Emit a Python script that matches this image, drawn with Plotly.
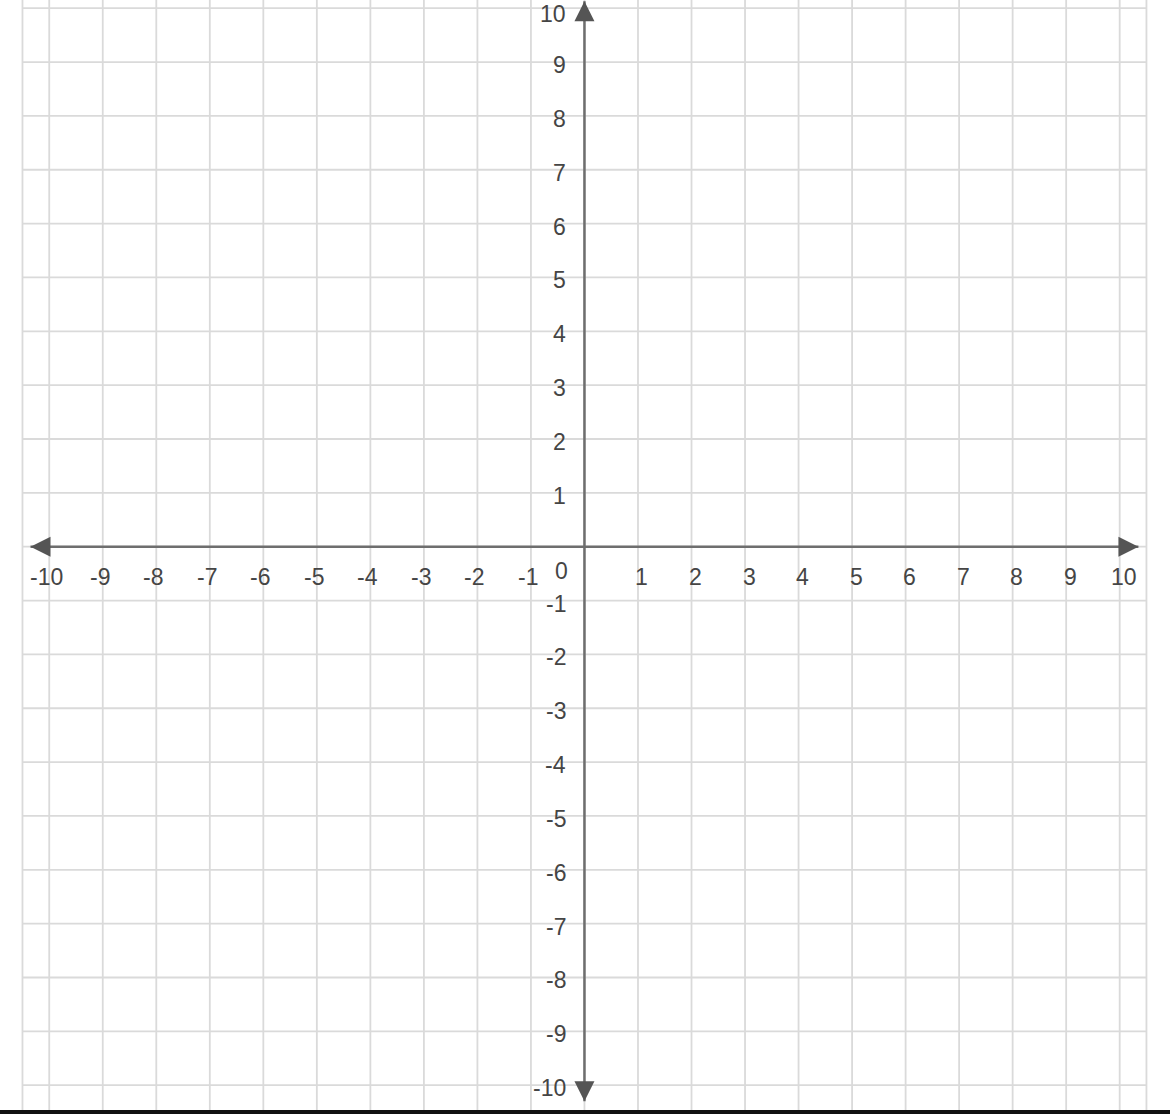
import plotly.graph_objects as go

# ---- data -------------------------------------------------------------
x_tick_values = [-10, -9, -8, -7, -6, -5, -4, -3, -2, -1, 1, 2, 3, 4, 5, 6, 7, 8, 9, 10]
x_tick_labels = ["-10", "-9", "-8", "-7", "-6", "-5", "-4", "-3", "-2", "-1",
                 "1", "2", "3", "4", "5", "6", "7", "8", "9", "10"]
y_tick_values = [10, 9, 8, 7, 6, 5, 4, 3, 2, 1, -1, -2, -3, -4, -5, -6, -7, -8, -9, -10]
y_tick_labels = ["10", "9", "8", "7", "6", "5", "4", "3", "2", "1",
                 "-1", "-2", "-3", "-4", "-5", "-6", "-7", "-8", "-9", "-10"]
origin_label = "0"
grid_x = [-10.5, -10, -9, -8, -7, -6, -5, -4, -3, -2, -1, 0,
          1, 2, 3, 4, 5, 6, 7, 8, 9, 10, 10.5]
grid_y = [-10, -9, -8, -7, -6, -5, -4, -3, -2, -1, 0,
          1, 2, 3, 4, 5, 6, 7, 8, 9, 10]
grid_x_extent = [-10.5, 10.5]
axis_x_extent = [-10.35, 10.35]
axis_y_extent = [-10.3, 10.13]
x_range = [-10.92, 10.94]
y_range = [-10.535, 10.152]

# ---- style ------------------------------------------------------------
GRID = "#dadada"
AXIS = "#6e6e6e"
ARROW = "#555555"
TEXT = "#454545"
FONT = "Liberation Sans, Arial, sans-serif"
FSIZE = 23

fig = go.Figure()

# vertical grid lines
vx, vy = [], []
for g in grid_x:
    vx += [g, g, None]
    vy += [y_range[0], y_range[1], None]
fig.add_trace(go.Scatter(x=vx, y=vy, mode="lines",
                         line=dict(color=GRID, width=1.8),
                         hoverinfo="skip", showlegend=False))

# horizontal grid lines
hx, hy = [], []
for g in grid_y:
    hx += [grid_x_extent[0], grid_x_extent[1], None]
    hy += [g, g, None]
fig.add_trace(go.Scatter(x=hx, y=hy, mode="lines",
                         line=dict(color=GRID, width=1.8),
                         hoverinfo="skip", showlegend=False))

# axes
fig.add_trace(go.Scatter(x=axis_x_extent, y=[0, 0], mode="lines",
                         line=dict(color=AXIS, width=2.5),
                         hoverinfo="skip", showlegend=False))
fig.add_trace(go.Scatter(x=[0, 0], y=axis_y_extent, mode="lines",
                         line=dict(color=AXIS, width=2.5),
                         hoverinfo="skip", showlegend=False))

# arrowheads
fig.add_trace(go.Scatter(
    x=[axis_x_extent[0], axis_x_extent[1], 0, 0],
    y=[0, 0, axis_y_extent[1], axis_y_extent[0]],
    mode="markers",
    marker=dict(symbol=["arrow-left", "arrow-right", "arrow-up", "arrow-down"],
                size=20, color=ARROW, line=dict(width=0)),
    hoverinfo="skip", showlegend=False))

top_value = max(y_tick_values)
annotations = []
for v, t in zip(x_tick_values, x_tick_labels):
    annotations.append(dict(x=v, y=-0.57, xref="x", yref="y", text=t,
                            showarrow=False, xanchor="center", yanchor="middle",
                            xshift=(4 if v > 0 else -3),
                            font=dict(family=FONT, size=FSIZE, color=TEXT)))
for v, t in zip(y_tick_values, y_tick_labels):
    annotations.append(dict(x=-0.3, y=v, xref="x", yref="y", text=t,
                            showarrow=False, xanchor="right", yanchor="middle",
                            yshift=(-6 if v == top_value else -3),
                            font=dict(family=FONT, size=FSIZE, color=TEXT)))
annotations.append(dict(x=-0.42, y=-0.45, xref="x", yref="y", text=origin_label,
                        showarrow=False, xanchor="center", yanchor="middle",
                        font=dict(family=FONT, size=FSIZE, color=TEXT)))

fig.update_layout(
    width=1170, height=1114,
    margin=dict(l=0, r=0, t=0, b=0),
    paper_bgcolor="white", plot_bgcolor="white",
    xaxis=dict(range=x_range, visible=False, fixedrange=True),
    yaxis=dict(range=y_range, visible=False, fixedrange=True),
    annotations=annotations,
    shapes=[dict(type="rect", xref="paper", yref="paper",
                 x0=0, x1=1, y0=0, y1=4 / 1114,
                 fillcolor="#111111", line=dict(width=0), layer="above")],
    showlegend=False,
)

fig.write_html("out.html", config={"displayModeBar": False})
